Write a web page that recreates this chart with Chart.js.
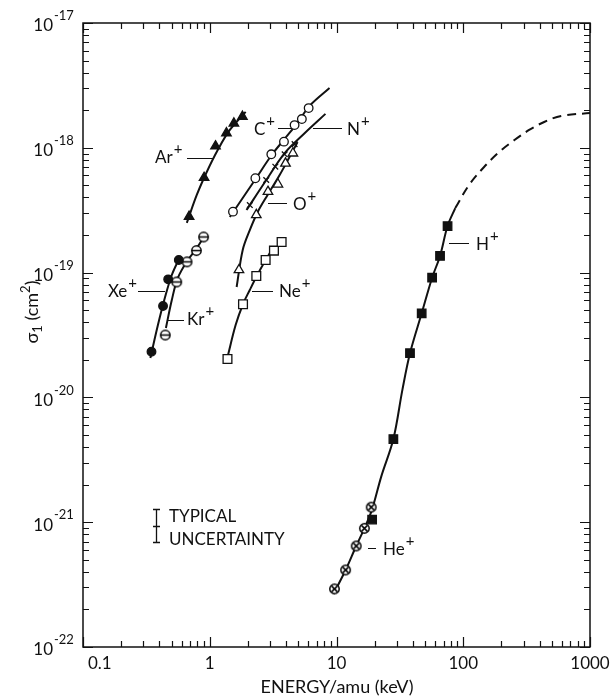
<!DOCTYPE html>
<html>
<head>
<meta charset="utf-8">
<script src="https://cdn.jsdelivr.net/npm/chart.js@4.4.0/dist/chart.umd.min.js"></script>
<style>
  html, body { margin: 0; padding: 0; background: #fff; }
  #wrap { position: relative; width: 610px; height: 698px; }
</style>
</head>
<body>
<div id="wrap"><canvas id="chart"></canvas></div>
<script>
// measured points, energy (keV/amu) and cross section (cm^2)
let arE = [0.687, 0.902, 1.11, 1.354, 1.55, 1.81];
let arS = [2.81e-19, 5.76e-19, 1.03e-18, 1.31e-18, 1.57e-18, 1.78e-18];
let cE = [1.525, 2.29, 3.06, 3.85, 4.67, 5.33, 6.03];
let cS = [3.08e-19, 5.70e-19, 8.87e-19, 1.12e-18, 1.52e-18, 1.70e-18, 2.08e-18];
let nE = [2.07, 2.79, 3.29, 3.90, 4.67];
let nS = [3.48e-19, 5.52e-19, 7.06e-19, 8.87e-19, 1.07e-18];
let oE = [1.70, 2.33, 2.88, 3.45, 3.96, 4.53];
let oS = [1.05e-19, 2.90e-19, 4.45e-19, 5.10e-19, 7.51e-19, 9.04e-19];
let neE = [1.38, 1.83, 2.33, 2.76, 3.21, 3.69];
let neS = [2.03e-20, 5.57e-20, 9.39e-20, 1.26e-19, 1.50e-19, 1.76e-19];
let xeE = [0.347, 0.428, 0.470, 0.570];
let xeS = [2.32e-20, 5.40e-20, 8.83e-20, 1.26e-19];
let krE = [0.446, 0.549, 0.662, 0.785, 0.894];
let krS = [3.16e-20, 8.41e-20, 1.22e-19, 1.50e-19, 1.93e-19];
let hE = [19.1, 28.1, 38.0, 47.0, 56.8, 65.6, 75.2];
let hS = [1.05e-21, 4.64e-21, 2.26e-20, 4.72e-20, 9.1e-20, 1.36e-19, 2.36e-19];
let heE = [9.64, 11.8, 14.3, 16.6, 18.8];
let heS = [2.92e-22, 4.14e-22, 6.45e-22, 8.93e-22, 1.32e-21];

// fitted curves as drawn in the figure
let arCurveE = [0.659, 0.790, 0.947, 1.156, 1.44, 1.92];
let arCurveS = [2.50e-19, 4.19e-19, 6.40e-19, 9.6e-19, 1.39e-18, 1.94e-18];
let cCurveE = [1.44, 2.30, 3.08, 3.90, 4.84, 6.12, 8.81];
let cCurveS = [2.79e-19, 5.62e-19, 8.75e-19, 1.18e-18, 1.55e-18, 2.16e-18, 3.01e-18];
let nCurveE = [1.95, 2.76, 3.90, 5.60, 8.18];
let nCurveS = [3.17e-19, 5.42e-19, 9.08e-19, 1.31e-18, 1.87e-18];
let oCurveE = [1.63, 1.82, 2.07, 2.39, 2.86, 3.56, 4.26, 4.93];
let oCurveS = [7.67e-20, 1.52e-19, 2.19e-19, 3.06e-19, 4.19e-19, 6.05e-19, 8.44e-19, 1.11e-18];
let neCurveE = [1.38, 1.60, 1.83, 2.07, 2.35, 2.71, 3.08];
let neCurveS = [2.1e-20, 3.80e-20, 5.60e-20, 7.26e-20, 9.39e-20, 1.22e-19, 1.52e-19];
let xeCurveE = [0.340, 0.390, 0.442, 0.502, 0.581];
let xeCurveS = [2.07e-20, 3.80e-20, 6.25e-20, 9.57e-20, 1.33e-19];
let krCurveE = [0.451, 0.502, 0.560, 0.671, 0.790, 0.930];
let krCurveS = [3.60e-20, 6.03e-20, 9.06e-20, 1.26e-19, 1.57e-19, 2.04e-19];
let hCurveE = [9.47, 11.8, 14.3, 16.6, 19.0, 22.6, 28.1, 33.1, 38.0, 47.0, 56.8, 65.6, 75.2, 86.5];
let hCurveS = [2.66e-22, 4.14e-22, 6.45e-22, 8.93e-22, 1.25e-21, 2.34e-21, 4.64e-21, 1.15e-20, 2.26e-20, 4.72e-20, 9.1e-20, 1.36e-19, 2.36e-19, 3.29e-19];
let hDashE = [86.5, 111, 146, 192, 252, 331, 435, 592, 1000];
let hDashS = [3.29e-19, 5.03e-19, 7.02e-19, 9.25e-19, 1.15e-18, 1.39e-18, 1.61e-18, 1.80e-18, 1.90e-18];

// axis labels
let xTickValues = [0.1, 1, 10, 100, 1000];
let xTickLabels = ['0.1', '1', '10', '100', '1000'];
let yTickExponents = [-22, -21, -20, -19, -18, -17];

const INK = '#111';
const FONT = 'Lato, "DejaVu Sans", sans-serif';

function pts(xs, ys) {
    return xs.map((e, i) => ({ x: e, y: ys[i] }));
}

// small canvases for the circle-with-bar and circle-with-cross symbols
function ringSymbol(kind) {
    let c = document.createElement('canvas');
    c.width = 13; c.height = 13;
    let g = c.getContext('2d');
    g.fillStyle = '#fff';
    g.strokeStyle = '#000';
    g.lineWidth = 1.5;
    g.beginPath();
    g.arc(6.5, 6.5, 4.7, 0, 2 * Math.PI);
    g.fill();
    g.stroke();
    g.beginPath();
    if (kind === 'bar') {
        g.moveTo(2, 6.5); g.lineTo(11, 6.5);
    } else {
        let d = 3.1;
        g.moveTo(6.5 - d, 6.5 - d); g.lineTo(6.5 + d, 6.5 + d);
        g.moveTo(6.5 + d, 6.5 - d); g.lineTo(6.5 - d, 6.5 + d);
    }
    g.stroke();
    return c;
}

function markers(xs, ys, style, filled, r) {
    return {
        data: pts(xs, ys),
        showLine: false,
        pointStyle: style,
        pointRadius: r,
        pointBorderWidth: 1.3,
        pointBorderColor: INK,
        pointBackgroundColor: filled ? INK : '#fff',
        order: 0
    };
}

function curve(xs, ys, dash) {
    return {
        data: pts(xs, ys),
        showLine: true,
        pointRadius: 0,
        borderColor: INK,
        borderWidth: 2,
        borderDash: dash || [],
        tension: 0.35,
        fill: false,
        order: 1
    };
}

function drawIon(ctx, name, x, base, leader) {
    ctx.fillStyle = INK;
    ctx.strokeStyle = INK;
    ctx.textAlign = 'left';
    ctx.textBaseline = 'alphabetic';
    ctx.font = '17px ' + FONT;
    ctx.fillText(name, x, base);
    let w = ctx.measureText(name).width;
    ctx.font = '15px ' + FONT;
    ctx.fillText('+', x + w + 1, base - 9);
    if (leader) {
        ctx.lineWidth = 1;
        ctx.beginPath();
        ctx.moveTo(leader[0], leader[2]);
        ctx.lineTo(leader[1], leader[2]);
        ctx.stroke();
    }
}

const framePlugin = {
    id: 'frame',
    afterDraw(chart) {
        let ctx = chart.ctx;
        let xs = chart.scales.x;
        let ys = chart.scales.y;
        let a = chart.chartArea;
        ctx.save();
        ctx.strokeStyle = INK;
        ctx.fillStyle = INK;
        ctx.lineWidth = 1.5;
        ctx.strokeRect(a.left, a.top, a.right - a.left, a.bottom - a.top);

        // inward ticks on all four sides
        ctx.lineWidth = 1.2;
        ctx.beginPath();
        for (let d = -1; d <= 3; d++) {
            for (let m = 1; m <= 9; m++) {
                let v = m * Math.pow(10, d);
                if (v > 1000) break;
                let px = Math.round(xs.getPixelForValue(v)) + 0.5;
                let len = m === 1 ? 10 : 6;
                ctx.moveTo(px, a.bottom); ctx.lineTo(px, a.bottom - len);
                ctx.moveTo(px, a.top); ctx.lineTo(px, a.top + len);
            }
        }
        for (let d = -22; d <= -17; d++) {
            for (let m = 1; m <= 9; m++) {
                let v = m * Math.pow(10, d);
                if (d === -17 && m > 1) break;
                let py = Math.round(ys.getPixelForValue(v)) + 0.5;
                let len = m === 1 ? 10 : 6;
                ctx.moveTo(a.left, py); ctx.lineTo(a.left + len, py);
                ctx.moveTo(a.right, py); ctx.lineTo(a.right - len, py);
            }
        }
        ctx.stroke();

        // x tick labels
        ctx.font = '17px ' + FONT;
        ctx.textBaseline = 'top';
        xTickValues.forEach((v, i) => {
            let px = xs.getPixelForValue(v);
            if (i === 0) {
                ctx.textAlign = 'left';
                ctx.fillText(xTickLabels[i], px + 5, 655);
            } else {
                ctx.textAlign = 'center';
                ctx.fillText(xTickLabels[i], px, 655);
            }
        });

        // y tick labels 10^n
        yTickExponents.forEach(e => {
            let py = ys.getPixelForValue(Math.pow(10, e));
            ctx.font = '17px ' + FONT;
            ctx.textAlign = 'right';
            ctx.textBaseline = 'middle';
            ctx.fillText('10', 53, py + 3);
            ctx.font = '13px ' + FONT;
            ctx.textAlign = 'left';
            ctx.fillText('-' + Math.abs(e), 54, py - 7);
        });

        // x title
        ctx.font = '18px ' + FONT;
        ctx.textAlign = 'center';
        ctx.textBaseline = 'alphabetic';
        ctx.fillText('ENERGY/amu (keV)', 337, 693);

        // y title, rotated
        ctx.save();
        ctx.translate(38, 312);
        ctx.rotate(-Math.PI / 2);
        let parts = [['σ', 18, 0], ['1', 13, 4], [' (cm', 18, 0], ['2', 13, -8], [')', 18, 0]];
        let total = 0;
        parts.forEach(p => { ctx.font = p[1] + 'px ' + FONT; total += ctx.measureText(p[0]).width; });
        let cx = -total / 2;
        ctx.textAlign = 'left';
        parts.forEach(p => {
            ctx.font = p[1] + 'px ' + FONT;
            ctx.fillText(p[0], cx, p[2]);
            cx += ctx.measureText(p[0]).width;
        });
        ctx.restore();

        // ion labels with leader lines
        drawIon(ctx, 'Ar', 155, 163, [187, 213, 158.5]);
        drawIon(ctx, 'C', 254, 135, [278, 292, 128.5]);
        drawIon(ctx, 'N', 347, 135, [313, 342, 128.5]);
        drawIon(ctx, 'O', 293, 210, [268, 287, 203.5]);
        drawIon(ctx, 'Xe', 108, 297, [138, 165, 291.5]);
        drawIon(ctx, 'Kr', 187, 325, [168, 184, 320.5]);
        drawIon(ctx, 'Ne', 279, 297, [252, 273, 291.5]);
        drawIon(ctx, 'H', 476, 250, [449, 469, 243.5]);
        drawIon(ctx, 'He', 383, 555, [368, 376, 548.5]);

        // typical uncertainty bar
        ctx.lineWidth = 1.3;
        ctx.beginPath();
        ctx.moveTo(156.5, 509); ctx.lineTo(156.5, 543);
        ctx.moveTo(153, 509.5); ctx.lineTo(160, 509.5);
        ctx.moveTo(153, 526.5); ctx.lineTo(160, 526.5);
        ctx.moveTo(153, 542.5); ctx.lineTo(160, 542.5);
        ctx.stroke();
        ctx.font = '17px ' + FONT;
        ctx.textAlign = 'left';
        ctx.fillText('TYPICAL', 169, 522);
        ctx.fillText('UNCERTAINTY', 169, 545);
        ctx.restore();
    }
};

let ctx = document.getElementById('chart').getContext('2d');

let chart = new Chart(ctx, {
    type: 'scatter',
    data: {
        datasets: [
            markers(arE, arS, 'triangle', true, 5.5),
            markers(cE, cS, 'circle', false, 4.3),
            markers(nE, nS, 'crossRot', false, 4),
            markers(oE, oS, 'triangle', false, 5.5),
            markers(neE, neS, 'rect', false, 6.2),
            markers(xeE, xeS, 'circle', true, 4.3),
            markers(krE, krS, ringSymbol('bar'), false, 5),
            markers(hE, hS, 'rect', true, 6),
            markers(heE, heS, ringSymbol('cross'), false, 5),
            curve(arCurveE, arCurveS),
            curve(cCurveE, cCurveS),
            curve(nCurveE, nCurveS),
            curve(oCurveE, oCurveS),
            curve(neCurveE, neCurveS),
            curve(xeCurveE, xeCurveS),
            curve(krCurveE, krCurveS),
            curve(hCurveE, hCurveS),
            curve(hDashE, hDashS, [9, 6])
        ]
    },
    options: {
        responsive: true,
        maintainAspectRatio: false,
        animation: false,
        layout: { padding: { left: 83, right: 20, top: 23, bottom: 51 } },
        plugins: { legend: { display: false }, tooltip: { enabled: false } },
        scales: {
            x: {
                type: 'logarithmic', min: 0.1, max: 1000,
                ticks: { display: false }, grid: { display: false }, border: { display: false },
                afterFit(s) { s.height = 0; }
            },
            y: {
                type: 'logarithmic', min: 1e-22, max: 1e-17,
                ticks: { display: false }, grid: { display: false }, border: { display: false },
                afterFit(s) { s.width = 0; }
            }
        }
    },
    plugins: [framePlugin]
});
</script>
</body>
</html>
